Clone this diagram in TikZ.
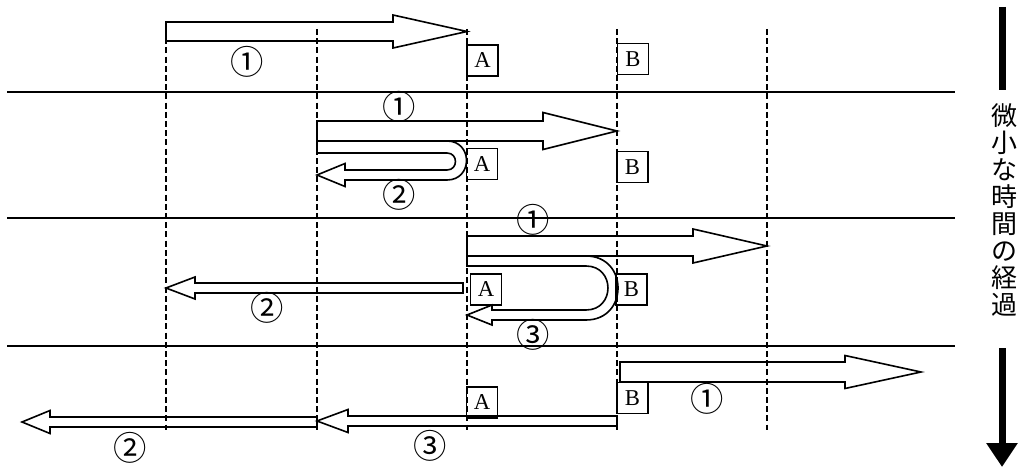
\documentclass[tikz,border=0pt]{standalone}
\usepackage{fontspec}
\setmainfont{Liberation Serif}
\newfontfamily\jpfont{Noto Sans CJK JP}
\usetikzlibrary{arrows.meta}

\begin{document}
\begin{tikzpicture}[x=0.75pt, y=-0.75pt,
    sep/.style={line width=1.9pt},
    grid/.style={line width=1.9pt, dash pattern=on 4.5pt off 2.4pt},
    blk/.style={draw, line width=1.2pt, line join=miter},
    pt/.style={draw, line width=1.2pt, minimum size=23pt, inner sep=0pt, font=\fontsize{17}{17}\selectfont},
    num/.style={inner sep=0pt, font=\jpfont\fontsize{25}{25}\selectfont},
    bar/.style={line width=5.25pt},
    time/.style={line width=5.25pt, -{Triangle[width=22.5pt, length=18pt]}}
  ]
  \useasboundingbox (0,0) rectangle (1025,474);
  \foreach \yy in {92,218,346} { \draw[sep] (7,\yy) -- (955,\yy); }
  \foreach \xx in {166,317,467,617,767} { \draw[grid] (\xx,29) -- (\xx,430); }
  \foreach \xa/\xb/\yc/\bw/\hw/\hl in {166/467/31.5/9.5/16.5/74, 317/617/131/10/18.5/74, 467/767/246/10/17/74,
      620/921/372/10/16.5/76, 463/166/288/5/11/29, 617/317/421/5/11.5/31, 317/22/422/5/11.5/28} {
    \pgfmathsetmacro\hx{\xb-sign(\xb-\xa)*\hl}
    \draw[blk] (\xa,\yc-\bw) -- (\hx,\yc-\bw) -- (\hx,\yc-\hw) -- (\xb,\yc) -- (\hx,\yc+\hw) -- (\hx,\yc+\bw) -- (\xa,\yc+\bw) -- cycle;
  }
  \draw[blk] (317,141) -- (447,141) .. controls (473,141) and (473,180) .. (447,180) -- (345,180) -- (345,186.5)
    -- (317,175) -- (345,163.5) -- (345,170) -- (447,170) .. controls (458.3,170) and (458.3,153) .. (447,153) -- (317,153) -- cycle;
  \draw[blk] (467,256) -- (586,256) .. controls (628.7,256) and (628.7,320) .. (586,320) -- (492,320) -- (492,325)
    -- (467,315) -- (492,305) -- (492,310) -- (586,310) .. controls (615.3,310) and (615.3,266) .. (586,266) -- (467,266) -- cycle;
  \node[pt] (a1) at (482.5,60.5) {A};
  \node[pt] (b1) at (633,59) {B};
  \node[pt] (a2) at (482,164) {A};
  \node[pt] (b2) at (632.5,167) {B};
  \node[pt] (a3) at (486,289.5) {A};
  \node[pt] (b3) at (631.5,289.5) {B};
  \node[pt] (a4) at (482,402.5) {A};
  \node[pt] (b4) at (632.5,398) {B};
  \node[num] (n11) at (247,62) {①};
  \node[num] (n21) at (399,107) {①};
  \node[num] (n22) at (399,195) {②};
  \node[num] (n31) at (533,220) {①};
  \node[num] (n32) at (267,308) {②};
  \node[num] (n33) at (533,335) {③};
  \node[num] (n41) at (707,399) {①};
  \node[num] (n43) at (430,446) {③};
  \node[num] (n42) at (130,448) {②};
  \node[inner sep=0pt, align=center, font=\jpfont\fontsize{19.5}{20.25}\selectfont] (tlabel) at (1004,210)
    {微\\小\\な\\時\\間\\の\\経\\過};
  \coordinate (ttop) at (1002,7);
  \coordinate (tmid) at (1002,90);
  \coordinate (tlow) at (1002,348);
  \coordinate (tend) at (1002,467);
  \draw[bar] (ttop) -- (tmid);
  \draw[time] (tlow) -- (tend);
\end{tikzpicture}
\end{document}
